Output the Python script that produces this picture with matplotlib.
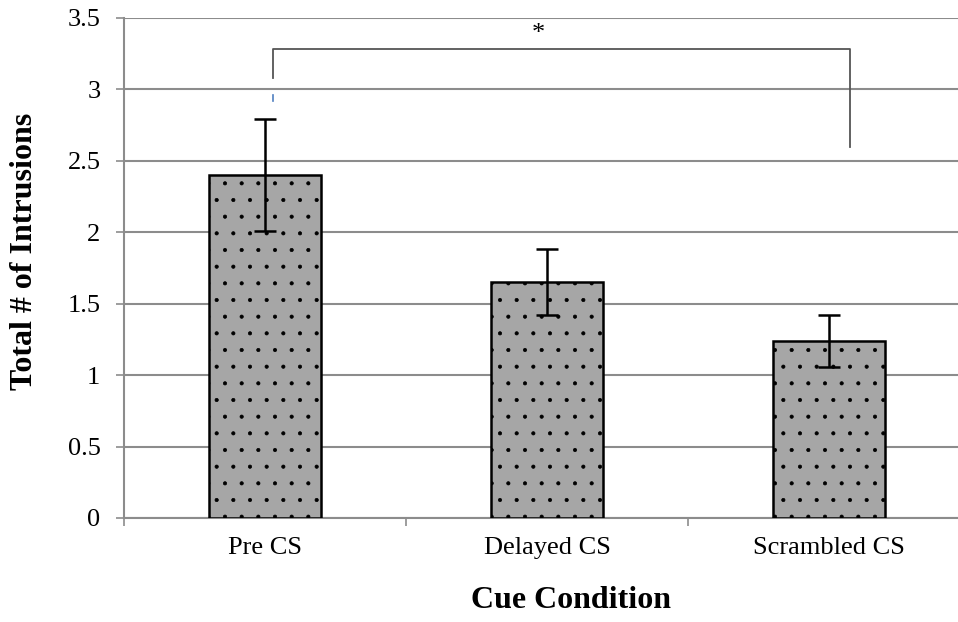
import matplotlib.pyplot as plt
import matplotlib as mpl

mpl.rcParams['font.family'] = ['Liberation Serif', 'DejaVu Serif']
mpl.rcParams['hatch.linewidth'] = 0.5

conditions = ['Pre CS', 'Delayed CS', 'Scrambled CS']
means = [2.40, 1.65, 1.24]
errors = [0.39, 0.23, 0.18]
yticks = [0, 0.5, 1, 1.5, 2, 2.5, 3, 3.5]
ytick_labels = ['0', '0.5', '1', '1.5', '2', '2.5', '3', '3.5']

fig = plt.figure(figsize=(9.58, 6.22), dpi=100)
ax = fig.add_axes([124/958, 104/622, 846/958, 500/622])

x = range(len(conditions))
ax.bar(x, means, width=0.4, color='#a6a6a6', edgecolor='black', linewidth=1.8,
       hatch='.', zorder=3)
ax.errorbar(x, means, yerr=errors, fmt='none', ecolor='black', elinewidth=1.8,
            capsize=8, capthick=1.8, zorder=4)

ax.set_xlim(-0.5, 2.5)
ax.set_ylim(0, 3.5)
ax.set_yticks(yticks)
ax.set_yticklabels(ytick_labels)
ax.yaxis.grid(True, color='#8c8c8c', linewidth=1.5, zorder=0)

ax.set_xticks([-0.5, 0.5, 1.5])
ax.set_xticklabels([])
ax.set_xticks(list(x), minor=True)
ax.set_xticklabels(conditions, minor=True)
ax.tick_params(axis='x', which='minor', length=0, pad=14, labelsize=19)
ax.tick_params(axis='x', which='major', length=6, width=1.2, color='#8c8c8c')
ax.tick_params(axis='y', length=6, width=1.2, color='#8c8c8c', labelsize=19, pad=11)

for s in ['top', 'right']:
    ax.spines[s].set_visible(False)
for s in ['left', 'bottom']:
    ax.spines[s].set_color('#8c8c8c')
    ax.spines[s].set_linewidth(1.5)

# significance bracket
ax.plot([0.03, 0.03, 2.073, 2.073], [3.08, 3.285, 3.285, 2.6],
        color='#555555', linewidth=1.3, zorder=5, clip_on=False)
ax.plot([0.03, 0.03], [2.92, 2.96], color='#4f7fc0', linewidth=1.2, zorder=5)
ax.text(0.97, 3.39, '*', ha='center', va='center', fontsize=19)

fig.text(25/958, 1 - 251/622, 'Total # of Intrusions', rotation=90,
         ha='center', va='center', fontsize=23, fontweight='bold')
fig.text(571/958, 1 - 601/622, 'Cue Condition',
         ha='center', va='center', fontsize=23, fontweight='bold')

fig.savefig('out.png', dpi=100)
